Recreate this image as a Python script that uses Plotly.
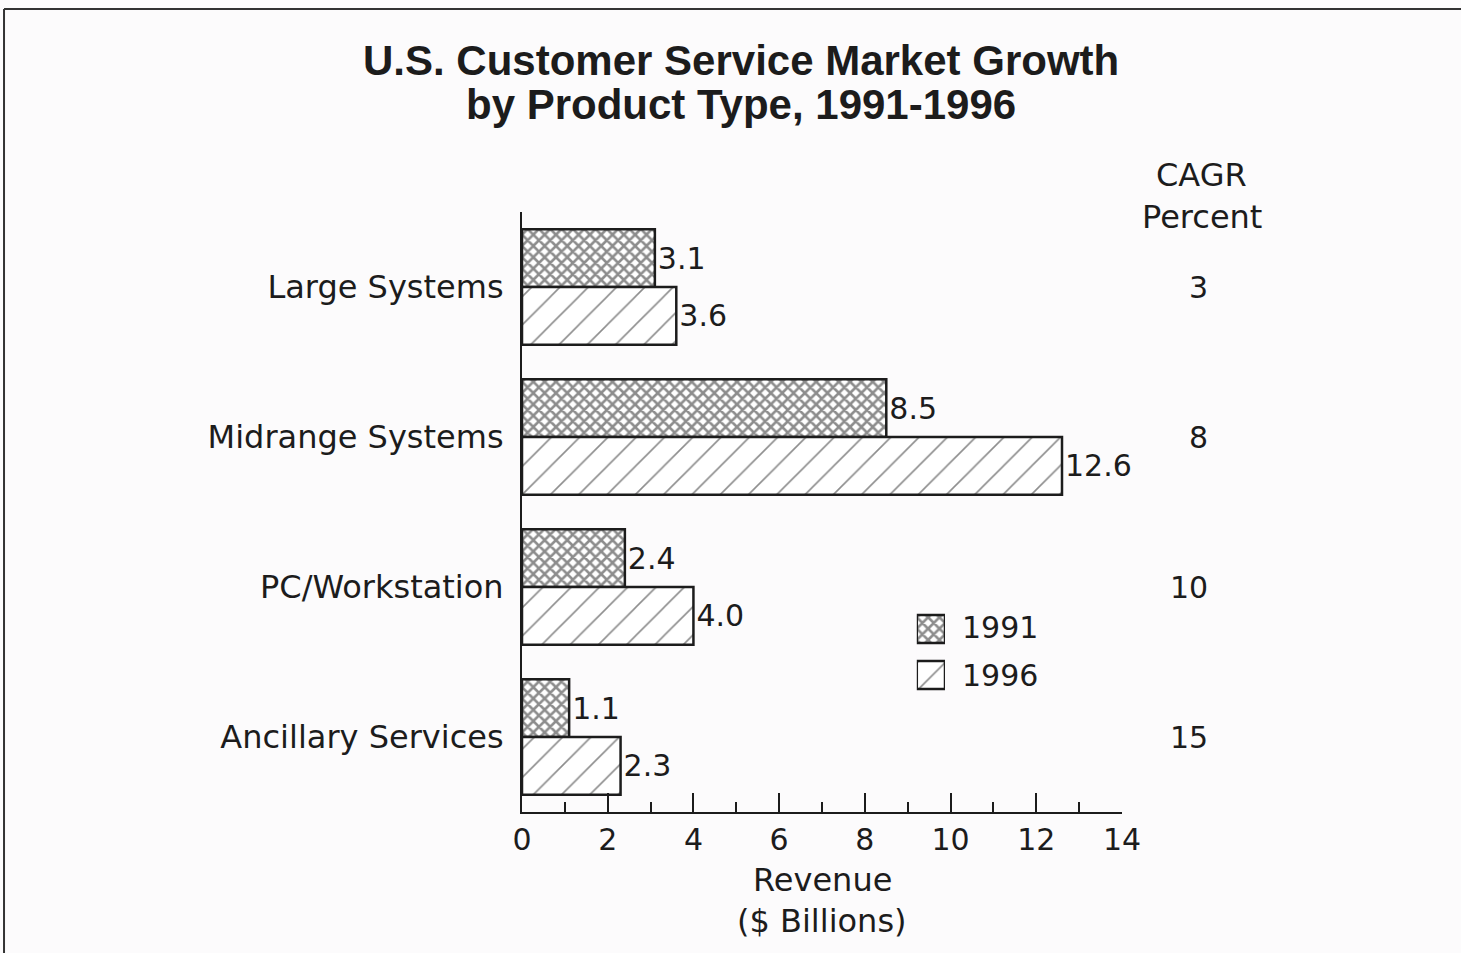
import plotly.graph_objects as go

categories = ["Large Systems", "Midrange Systems", "PC/Workstation", "Ancillary Services"]
rev_1991 = [3.1, 8.5, 2.4, 1.1]
rev_1996 = [3.6, 12.6, 4.0, 2.3]
cagr = [3, 8, 10, 15]
years = ["1991", "1996"]
x_ticks = [0, 2, 4, 6, 8, 10, 12, 14]

INK = "#1c1c1c"
BG = "#fcfbfc"
FONT = "DejaVu Sans, Verdana, sans-serif"
TITLE_FONT = "Liberation Sans, Arial, Helvetica, sans-serif"
BAR_W = 0.385

PAT = {
    "1991": dict(shape="x", fgcolor=INK, bgcolor="white", size=8,
                 solidity=0.55, fillmode="overlay"),
    "1996": dict(shape="/", fgcolor=INK, bgcolor="white", size=20,
                 solidity=0.08, fillmode="overlay"),
}


def bar_trace(values, year, offset):
    return go.Bar(
        y=categories, x=values, orientation="h", name=year,
        width=BAR_W, offset=offset, showlegend=False,
        marker=dict(color="white", line=dict(color=INK, width=2.5),
                    pattern=PAT[year]),
        text=values, texttemplate="%{x:.1f}", textposition="outside",
        textfont=dict(size=30, color=INK, family=FONT),
        cliponaxis=False, constraintext="none",
    )


fig = go.Figure()
fig.add_trace(bar_trace(rev_1991, "1991", -BAR_W))
fig.add_trace(bar_trace(rev_1996, "1996", 0))

# hand-made legend: big patterned swatches on a small side axis
for year in years:
    fig.add_trace(go.Bar(
        y=[year], x=[1], orientation="h", width=0.61, showlegend=False,
        xaxis="x2", yaxis="y2", hoverinfo="skip",
        marker=dict(color="white", line=dict(color=INK, width=2.5),
                    pattern=PAT[year]),
    ))
for year, ly in zip(years, [0.3067, 0.2283]):
    fig.add_annotation(x=0.73, y=ly, xref="paper", yref="paper", text=year,
                       showarrow=False, xanchor="left", yanchor="middle",
                       font=dict(size=30, color=INK, family=FONT))

# CAGR column on the right
for cat, val in zip(categories, cagr):
    fig.add_annotation(x=1.1467, y=cat, xref="paper", yref="y", text=str(val),
                       showarrow=False, xanchor="right", yanchor="middle",
                       font=dict(size=30, color=INK, family=FONT))
for txt, ly in [("CAGR", 1.0617), ("Percent", 0.9917)]:
    fig.add_annotation(x=1.133, y=ly, xref="paper", yref="paper", text=txt,
                       showarrow=False, xanchor="center", yanchor="middle",
                       font=dict(size=32, color=INK, family=FONT))

# title lines
for txt, ly in [("U.S. Customer Service Market Growth", 1.2533),
                ("by Product Type, 1991-1996", 1.18)]:
    fig.add_annotation(x=0.365, y=ly, xref="paper", yref="paper",
                       text="<b>" + txt + "</b>", showarrow=False,
                       xanchor="center", yanchor="middle",
                       font=dict(size=42, color=INK, family=TITLE_FONT))

# axis title
for txt, ly in [("Revenue", -0.1133), ("($ Billions)", -0.1817)]:
    fig.add_annotation(x=0.5, y=ly, xref="paper", yref="paper", text=txt,
                       showarrow=False, xanchor="center", yanchor="middle",
                       font=dict(size=32, color=INK, family=FONT))

# page frame (top and left edges only)
fig.add_shape(type="line", xref="paper", yref="paper",
              x0=-0.8633, x1=1.572, y0=1.3383, y1=1.3383,
              line=dict(color="#333", width=2))
fig.add_shape(type="line", xref="paper", yref="paper",
              x0=-0.8633, x1=-0.8633, y0=1.3383, y1=-0.2467,
              line=dict(color="#333", width=2))

fig.update_layout(
    width=1461, height=953,
    margin=dict(l=522, r=339, t=212, b=141),
    paper_bgcolor=BG, plot_bgcolor=BG,
    barmode="overlay",
    font=dict(family=FONT, color=INK, size=32),
    showlegend=False,
    xaxis=dict(
        range=[0, 14], tickvals=x_ticks, showline=True, linecolor=INK,
        linewidth=2, ticks="inside", ticklen=19, tickwidth=2, tickcolor=INK,
        minor=dict(dtick=1, ticks="inside", ticklen=10, tickwidth=2,
                   tickcolor=INK, showgrid=False),
        showgrid=False, zeroline=False,
        tickfont=dict(size=30, family=FONT, color=INK),
    ),
    yaxis=dict(
        type="category", categoryorder="array", categoryarray=categories,
        range=[3.5, -0.5], showline=True, linecolor=INK, linewidth=2,
        ticks="", showgrid=False, zeroline=False, ticklabelstandoff=10,
        tickfont=dict(size=32, family=FONT, color=INK),
    ),
    xaxis2=dict(domain=[0.658, 0.705], range=[0, 1], visible=False,
                anchor="y2", fixedrange=True),
    yaxis2=dict(domain=[0.19, 0.3433], type="category",
                categoryorder="array", categoryarray=years,
                range=[1.5, -0.5], visible=False, anchor="x2", fixedrange=True),
)

fig.write_html("out.html", config={"displayModeBar": False},
               post_script="document.body.style.margin='0px';")
